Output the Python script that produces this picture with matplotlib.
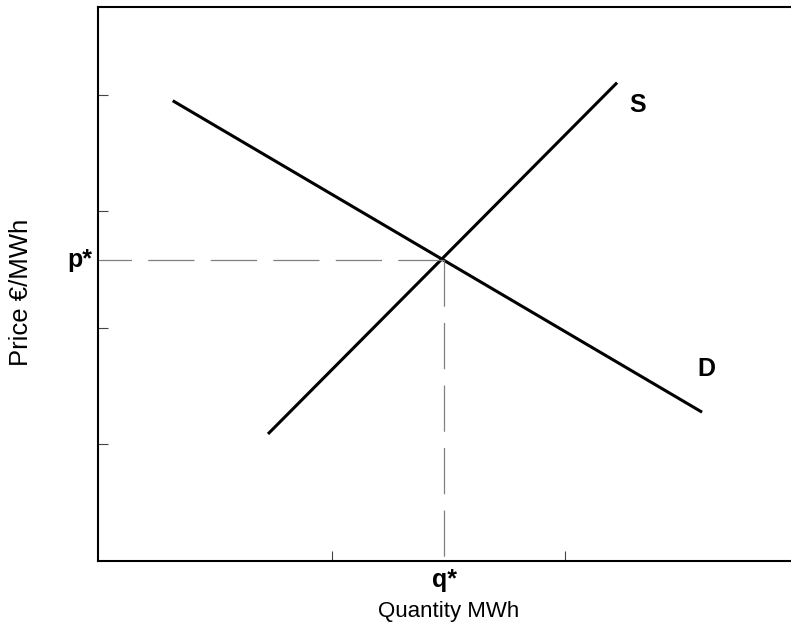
import matplotlib
matplotlib.use("Agg")
import matplotlib.pyplot as plt

plt.rcParams["font.family"] = ["Liberation Sans", "DejaVu Sans"]

# supply / demand end points (data units)
demand_q = [0.32, 2.587]
demand_p = [3.95, 1.277]
supply_q = [0.728, 2.223]
supply_p = [1.09, 4.105]
q_star = 1.482
p_star = 2.58

x_ticks = [1, 2]
y_ticks = [1, 2, 3, 4]

fig = plt.figure(figsize=(7.91, 6.29), dpi=100)
ax = fig.add_axes([0.1239, 0.1081, 0.8856, 0.880])

ax.plot(demand_q, demand_p, color="black", linewidth=2.2, solid_capstyle="butt")
ax.plot(supply_q, supply_p, color="black", linewidth=2.2, solid_capstyle="butt")

# guide lines, drawn from the equilibrium outwards
ax.plot([q_star, 0], [p_star, p_star], color="#808080", linewidth=0.9,
        dashes=(37, 13))
ax.plot([q_star, q_star], [p_star, 0], color="#808080", linewidth=0.9,
        dashes=(37, 13))

ax.set_xlim(0, 3)
ax.set_ylim(0, 4.75)
ax.set_xticks(x_ticks)
ax.set_yticks(y_ticks)
ax.set_xticklabels([])
ax.set_yticklabels([])
ax.tick_params(direction="in", length=7, width=0.8, color="#444444")
for side in ["left", "bottom", "top"]:
    ax.spines[side].set_linewidth(1.5)
ax.spines["right"].set_visible(False)

ax.text(q_star, -0.163, "q*", ha="center", va="center", fontsize=18, fontweight="bold")
ax.text(-0.025, p_star, "p*", ha="right", va="center", fontsize=18, fontweight="bold")
ax.text(2.311, 3.916, "S", ha="center", va="center", fontsize=18, fontweight="bold")
ax.text(2.606, 1.645, "D", ha="center", va="center", fontsize=18, fontweight="bold")

ax.set_xlabel("Quantity MWh", fontsize=16, labelpad=25)
ax.set_ylabel("Price €/MWh", fontsize=18.5)
ax.yaxis.set_label_coords(-0.093, 0.486)

fig.savefig("out.png", dpi=100)
